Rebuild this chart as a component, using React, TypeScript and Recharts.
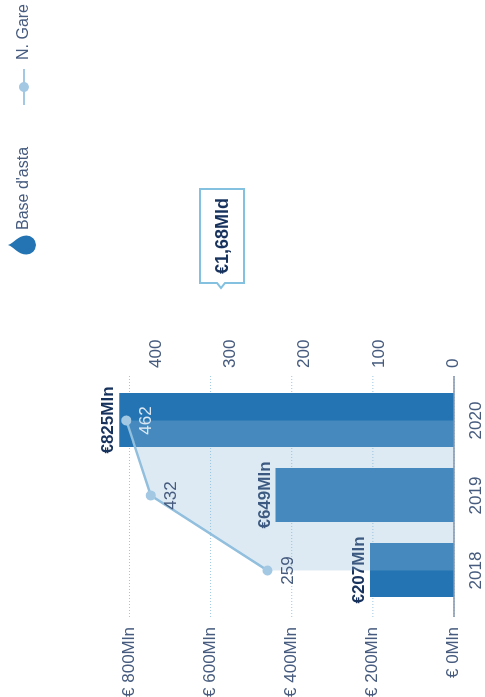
import {
  Bar,
  Area,
  CartesianGrid,
  ComposedChart,
  LabelList,
  Line,
  XAxis,
  YAxis,
} from "recharts";

const years = ["2018", "2019", "2020"];
const baseValues = [207, 440, 825];
const baseLabels = ["€207Mln", "€649Mln", "€825Mln"];
const gareValues = [251, 408, 441];
const gareLabels = ["259", "432", "462"];
const moneyTicks = [0, 200, 400, 600, 800];
const countTicks = [0, 100, 200, 300, 400];

const data = years.map((year, i) => ({
  year,
  base: baseValues[i],
  gare: gareValues[i],
  baseLabel: baseLabels[i],
  gareLabel: gareLabels[i],
}));

const navy = "#17325c";
const slate = "#465b7e";
const barBlue = "#2474b3";
const lineBlue = "#91bfdd";
const font = "'Liberation Sans', Arial, sans-serif";

const GareLabel = (props: any) => {
  const { x, y, value, index } = props;
  return (
    <text
      x={x}
      y={y + 25}
      textAnchor="middle"
      fontSize={17}
      fontFamily={font}
      fill={index === 2 ? "#dbe7f2" : slate}
    >
      {value}
    </text>
  );
};

const ChartLegend = () => (
  <div
    style={{
      position: "absolute",
      left: 442,
      top: 8,
      width: 255,
      height: 30,
      fontFamily: font,
      fontSize: 16,
      color: slate,
    }}
  >
    <svg width={20} height={30} style={{ position: "absolute", left: 0, top: 0 }}>
      <path d="M10 0 C12 6 19.5 10 19.5 18.5 A9.5 9.5 0 0 1 0.5 18.5 C0.5 10 8 6 10 0 Z" fill={barBlue} />
    </svg>
    <span style={{ position: "absolute", left: 25, top: 6 }}>Base d'asta</span>
    <svg width={36} height={30} style={{ position: "absolute", left: 150, top: 0 }}>
      <line x1={0} y1={16} x2={36} y2={16} stroke="#a3c8e3" strokeWidth={2} />
      <circle cx={18} cy={16} r={5} fill="#a3c8e3" />
    </svg>
    <span style={{ position: "absolute", left: 195, top: 6 }}>N. Gare</span>
  </div>
);

const App = () => (
  <div
    style={{
      position: "fixed",
      left: 0,
      top: 0,
      width: 697,
      height: 485,
      transform: "translate(0px, 697px) rotate(-90deg)",
      transformOrigin: "top left",
    }}
  >
    <ComposedChart
      width={697}
      height={485}
      data={data}
      barSize={54}
      margin={{ top: 110, right: 0, bottom: 1, left: 0 }}
    >
      <CartesianGrid
        yAxisId="money"
        horizontal
        vertical={false}
        horizontalValues={moneyTicks}
        stroke="#9cc6e0"
        strokeDasharray="1 2"
      />
      <XAxis
        dataKey="year"
        height={30}
        padding={{ left: 9, right: 7 }}
        tick={{ fontSize: 17, fill: slate, fontFamily: font }}
        tickLine={false}
        tickMargin={9}
        axisLine={{ stroke: "#8393ad", strokeWidth: 1.5 }}
      />
      <YAxis
        yAxisId="money"
        width={80}
        domain={[0, 848]}
        ticks={moneyTicks}
        tickFormatter={(v: number) => `€ ${v}Mln`}
        tick={{ fontSize: 17, fill: slate, fontFamily: font, dy: -2, dx: -2 }}
        tickLine={false}
        axisLine={false}
      />
      <YAxis
        yAxisId="count"
        orientation="right"
        width={376}
        domain={[0, 463]}
        ticks={countTicks}
        tick={{ fontSize: 17, fill: slate, fontFamily: font, textAnchor: "start", dy: -2 }}
        tickLine={false}
        axisLine={false}
      />
      <Bar
        yAxisId="money"
        dataKey="base"
        name="Base d'asta"
        fill={barBlue}
        zIndex={100}
        isAnimationActive={false}
      >
        <LabelList
          dataKey="baseLabel"
          position="top"
          fontSize={17}
          fontWeight="bold"
          fontFamily={font}
          fill={navy}
          offset={6}
          zIndex={110}
        />
      </Bar>
      <Area
        yAxisId="count"
        dataKey="gare"
        stroke="none"
        fill="#91b9d7"
        fillOpacity={0.3}
        legendType="none"
        zIndex={200}
        isAnimationActive={false}
      />
      <Line
        yAxisId="count"
        dataKey="gare"
        name="N. Gare"
        stroke={lineBlue}
        strokeWidth={2.5}
        dot={{ r: 5, fill: "#a3c8e3", stroke: "none" }}
        isAnimationActive={false}
      >
        <LabelList dataKey="gareLabel" content={GareLabel} />
      </Line>
    </ComposedChart>
    <ChartLegend />
    <svg
      width={110}
      height={60}
      style={{ position: "absolute", left: 405, top: 192 }}
    >
      <path
        d="M9 8 H103 V52 H9 V33 L4 29 L9 25 Z"
        fill="#fff"
        stroke="#84c0e0"
        strokeWidth={2}
      />
      <text
        x={56}
        y={36}
        textAnchor="middle"
        fontSize={18}
        fontWeight="bold"
        fontFamily={font}
        fill={navy}
      >
        €1,68Mld
      </text>
    </svg>
  </div>
);

export default App;
